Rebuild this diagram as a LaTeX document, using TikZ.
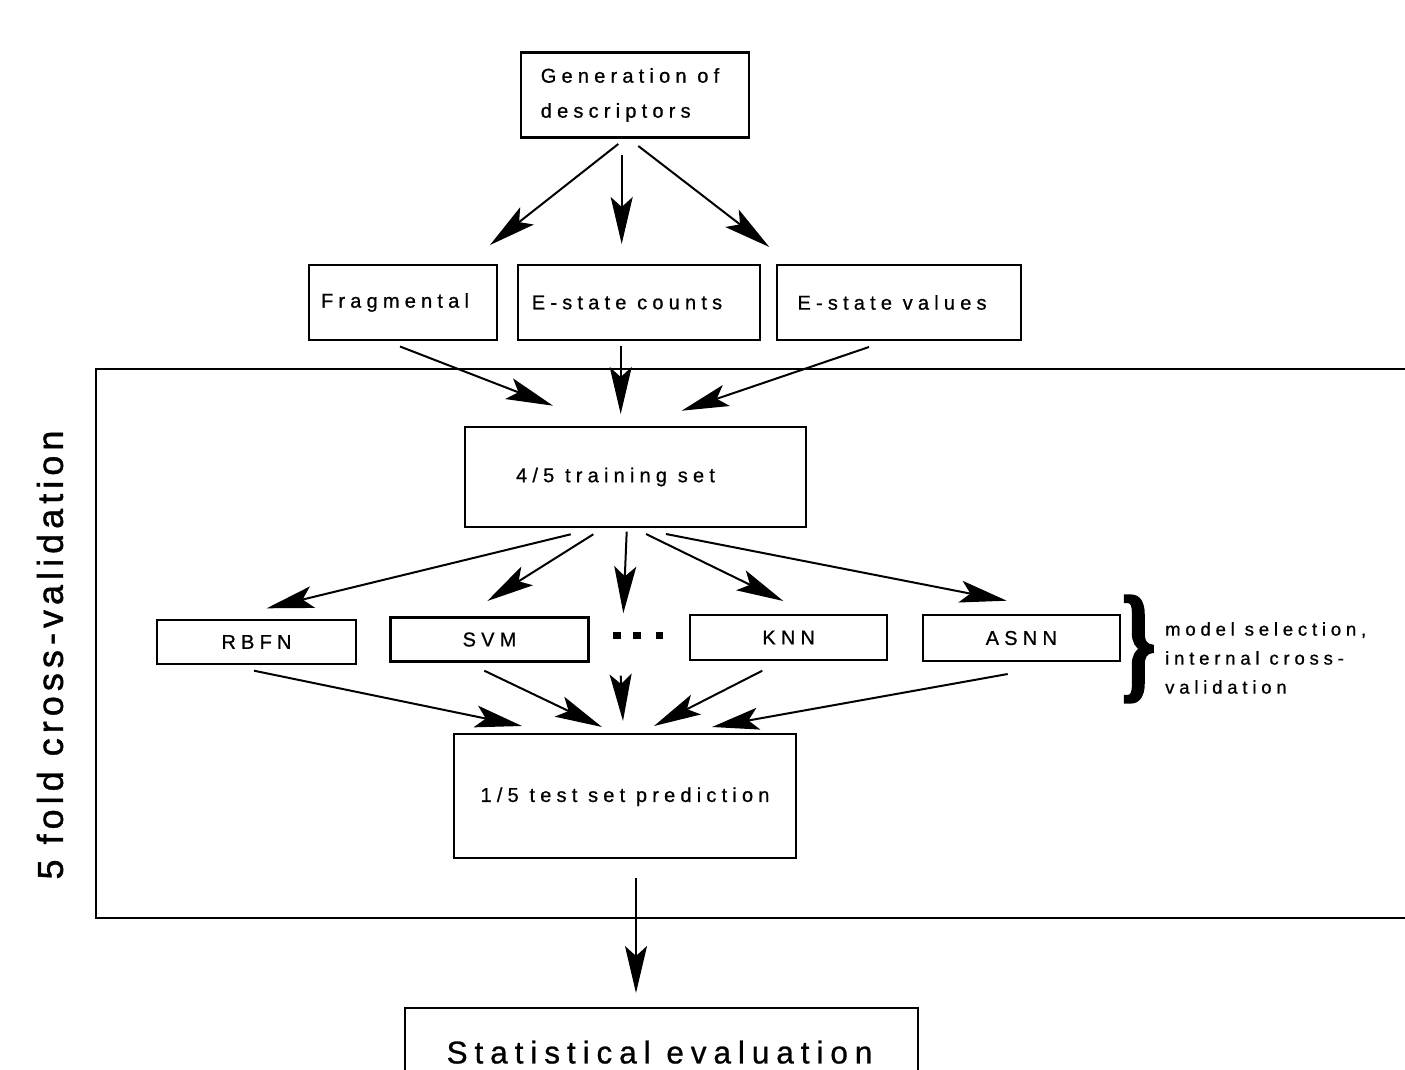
\documentclass[tikz,border=0pt]{standalone}
\usepackage{fontspec}
\setmainfont{Liberation Sans}
\newfontfamily\lblfont[LetterSpace=26,FakeBold=0.8]{Liberation Sans}
\newfontfamily\bigfont[LetterSpace=22,FakeBold=0.8]{Liberation Sans}
\newfontfamily\sidefont[LetterSpace=14,FakeBold=1.2]{Liberation Sans}
\newfontfamily\bracefont[FakeBold=2.5]{Liberation Serif}
\usetikzlibrary{arrows.meta}
\begin{document}
\begin{tikzpicture}[x=1pt,y=-1pt,
  box/.style={draw,line width=2.2pt,inner sep=0pt,font=\lblfont\fontsize{20}{35}\selectfont},
  arr/.style={line width=2pt,-{Stealth[length=47pt,width=22pt,inset=10pt]}},
  frame/.style={line width=2pt}]
\useasboundingbox (0,0) rectangle (1405,1070);

% boxes
\node[box,minimum width=228pt,minimum height=85pt,align=left] (gen) at (635,95) {\hspace*{-10pt}Generation of\\\hspace*{-10pt}descriptors};
\node[box,minimum width=188pt,minimum height=75pt] (frag) at (403,302.5) {\hspace*{-16pt}Fragmental};
\node[box,minimum width=242pt,minimum height=75pt] (ecount) at (639,302.5) {\hspace*{-24pt}E-state counts};
\node[box,minimum width=244pt,minimum height=75pt] (evalue) at (899,302.5) {\hspace*{-14pt}E-state values};
\node[box,minimum width=341pt,minimum height=100pt] (train) at (635.5,477) {\hspace*{-40pt}4/5 training set};
\node[box,minimum width=199pt,minimum height=44pt] (rbfn) at (256.5,642) {RBFN};
\node[box,minimum width=198pt,minimum height=44pt] (svm) at (489.5,639.5) {SVM};
\node[box,minimum width=197pt,minimum height=45pt] (knn) at (788.7,637.5) {KNN};
\node[box,minimum width=197pt,minimum height=46pt] (asnn) at (1021.3,638) {ASNN};
\node[box,minimum width=342pt,minimum height=124pt] (test) at (625,796) {\raisebox{-16pt}{1/5 test set prediction}};
\node[box,minimum width=513pt,minimum height=92pt,font=\bigfont\fontsize{31.5}{38}\selectfont] (stat) at (661.5,1054) {\raisebox{4pt}{\hspace*{-4pt}Statistical evaluation}};

% dots
\fill (613.3,632.3) rectangle (620.7,639);
\fill (633.3,632.3) rectangle (640.7,639);
\fill (656,632.3) rectangle (663.4,639);

% frame
\draw[frame] (1410,368.5) -- (95.5,368.5) -- (95.5,918) -- (1410,918);
\node[rotate=90,inner sep=0pt,font=\sidefont\fontsize{36}{40}\selectfont] (cv) at (50,655) {5 fold cross-validation};

% brace and note
\node[inner sep=0pt] (brace) at (1138.5,649) {\resizebox*{34pt}{106pt}{\bracefont\bfseries\}}};
\node[anchor=north west,align=left,inner sep=0pt,font=\lblfont\fontsize{18.5}{29}\selectfont] (ms) at (1165,622) {model selection,\\internal cross-\\validation};

% arrow end points
\coordinate (g1) at (618.3,144);   \coordinate (f1) at (490,245);
\coordinate (g2) at (621.7,155);   \coordinate (c1) at (621.7,244);
\coordinate (g3) at (638.3,146);   \coordinate (v1) at (769.3,247);
\coordinate (f2) at (400,346.5);   \coordinate (t1) at (553,405.7);
\coordinate (c2) at (620.7,346);   \coordinate (t2) at (620.7,414);
\coordinate (v2) at (869,347);     \coordinate (t3) at (681.7,410.7);
\coordinate (t4) at (570.7,534.3); \coordinate (r1) at (266.7,608.3);
\coordinate (t5) at (593.3,534.3); \coordinate (s1) at (487.3,601);
\coordinate (t6) at (626.7,531.7); \coordinate (d1) at (623.3,613.3);
\coordinate (t7) at (646,534);     \coordinate (k1) at (783.3,601);
\coordinate (t8) at (666,534);     \coordinate (a1) at (1006.7,600.7);
\coordinate (r2) at (254,670.7);   \coordinate (p1) at (522,726);
\coordinate (s2) at (484.3,670.7); \coordinate (p2) at (602,727);
\coordinate (d2) at (620.7,675.7); \coordinate (p3) at (623,721);
\coordinate (k2) at (762.3,670.7); \coordinate (p4) at (654,726);
\coordinate (a2) at (1007.7,674);  \coordinate (p5) at (712,727);
\coordinate (p6) at (636,878);     \coordinate (e1) at (636,993);

\draw[arr] (g1) -- (f1);
\draw[arr] (g2) -- (c1);
\draw[arr] (g3) -- (v1);
\draw[arr] (f2) -- (t1);
\draw[arr] (c2) -- (t2);
\draw[arr] (v2) -- (t3);
\draw[arr] (t4) -- (r1);
\draw[arr] (t5) -- (s1);
\draw[arr] (t6) -- (d1);
\draw[arr] (t7) -- (k1);
\draw[arr] (t8) -- (a1);
\draw[arr] (r2) -- (p1);
\draw[arr] (s2) -- (p2);
\draw[arr] (d2) -- (p3);
\draw[arr] (k2) -- (p4);
\draw[arr] (a2) -- (p5);
\draw[arr] (p6) -- (e1);
\end{tikzpicture}
\end{document}
